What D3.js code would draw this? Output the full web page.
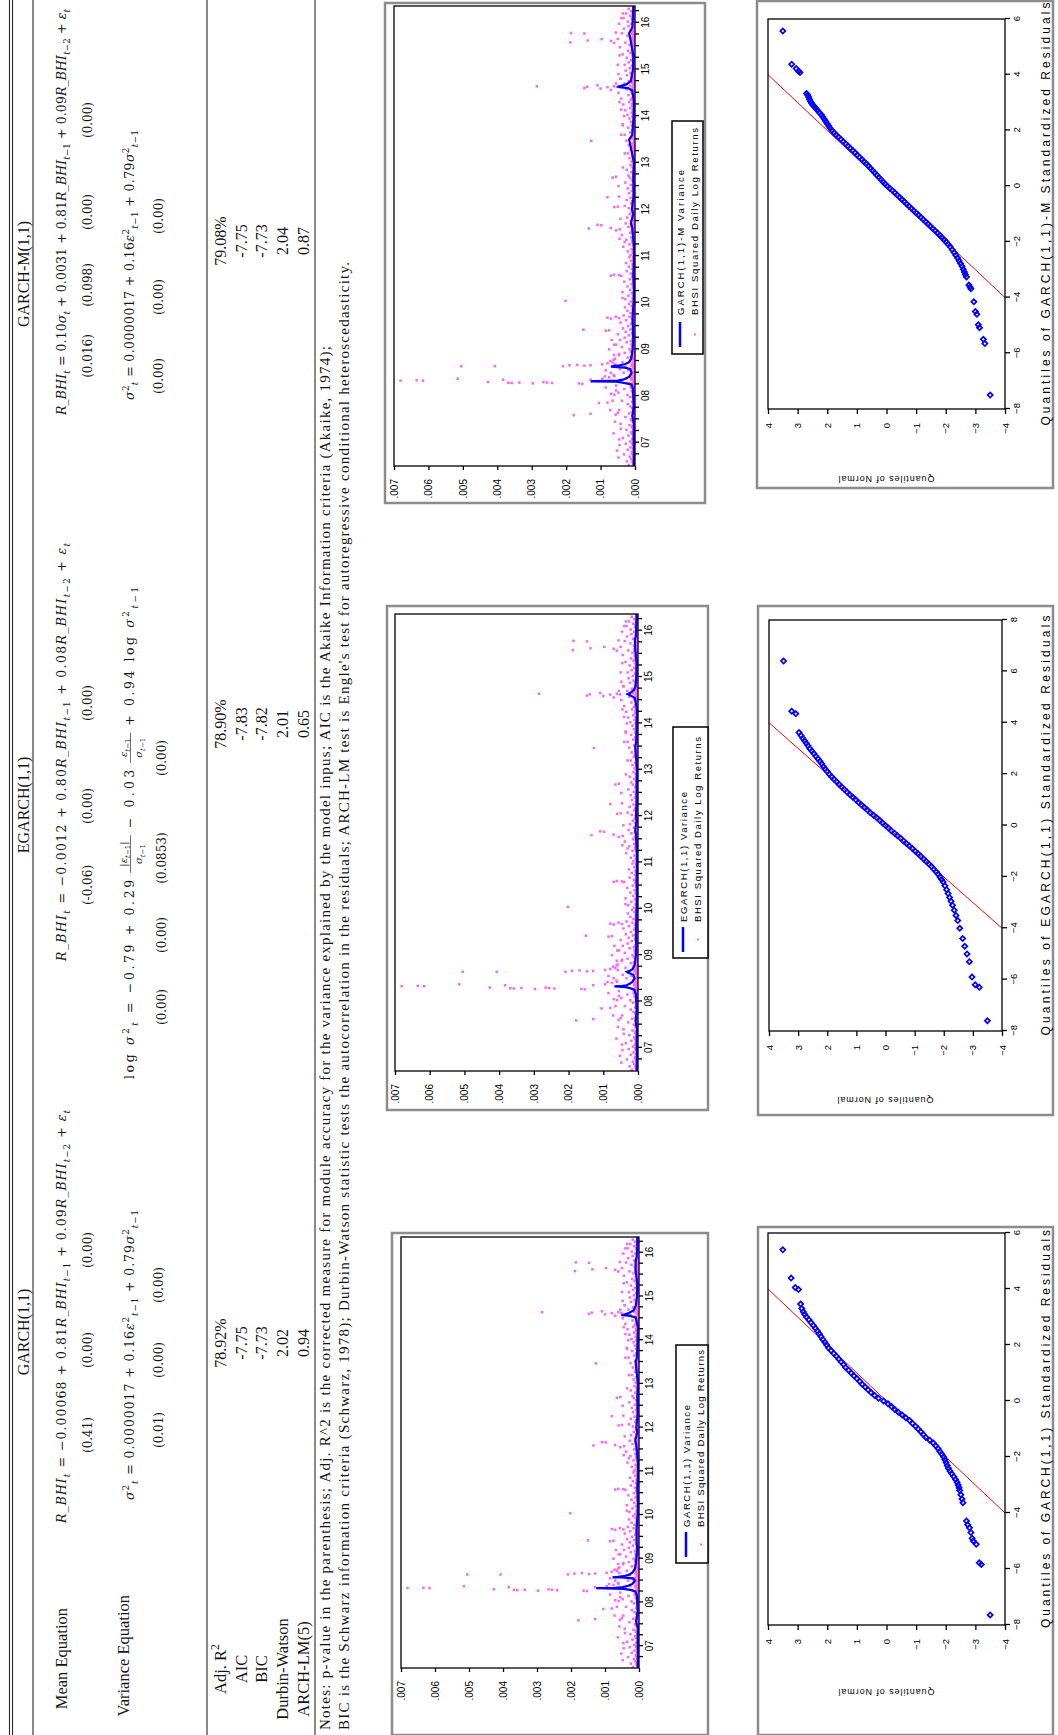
<!DOCTYPE html>
<html>
<head>
<meta charset="utf-8">
<script src="https://cdn.jsdelivr.net/npm/d3@7/dist/d3.min.js"></script>
<style>
body { margin: 0; background: #fff; }
svg { display: block; }
text { font-family: 'Liberation Serif', 'Times New Roman', serif; fill: #141414; }
.math { font-family: 'DejaVu Serif', 'Liberation Serif', serif; }
.ax text, .sans { font-family: 'Liberation Sans', Arial, sans-serif; fill: #000; }
</style>
</head>
<body>
<script>
// ---------------- data ----------------
var models = ["GARCH(1,1)", "EGARCH(1,1)", "GARCH-M(1,1)"];
var rowLabels = ["Mean Equation", "Variance Equation"];
var statLabels = ["Adj. R^{2}", "AIC", "BIC", "Durbin-Watson", "ARCH-LM(5)"];
var garchStats = ["78.92%", "-7.75", "-7.73", "2.02", "0.94"];
var egarchStats = ["78.90%", "-7.83", "-7.82", "2.01", "0.65"];
var garchmStats = ["79.08%", "-7.75", "-7.73", "2.04", "0.87"];

var meanEqs = [
  "R_BHI~{t} = −0.00068 + 0.81R_BHI~{t−1} + 0.09R_BHI~{t−2} + ε~{t}",
  "R_BHI~{t} = −0.0012 + 0.80R_BHI~{t−1} + 0.08R_BHI~{t−2} + ε~{t}",
  "R_BHI~{t} = 0.10σ~{t} + 0.0031 + 0.81R_BHI~{t−1} + 0.09R_BHI~{t−2} + ε~{t}"
];
var garchVarEq = "σ^{2}~{t} = 0.0000017 + 0.16ε^{2}~{t−1} + 0.79σ^{2}~{t−1}";
// EGARCH variance equation, pieces: text, fraction, text, fraction, text
var egarchVarEq = ["log σ^{2}~{t} = −0.79 + 0.29", ["|ε~{t−1}|", "σ~{t−1}"], "− 0.03", ["ε~{t−1}", "σ~{t−1}"], "+ 0.94 log σ^{2}~{t−1}"];

var meanP = [["(0.41)", "(0.00)", "(0.00)"], ["(-0.06)", "(0.00)", "(0.00)"], ["(0.016)", "(0.098)", "(0.00)", "(0.00)"]];
var varP = [["(0.01)", "(0.00)", "(0.00)"], ["(0.00)", "(0.00)", "(0.0853)", "(0.00)"], ["(0.00)", "(0.00)", "(0.00)"]];

var notes = [
  "Notes: p-value in the parenthesis; Adj. R^2 is the corrected measure for module accuracy for the variance explained by the model inpus; AIC is the Akaike Information criteria (Akaike, 1974);",
  "BIC is the Schwarz information criteria (Schwarz, 1978); Durbin-Watson statistic tests the autocorrelation in the residuals; ARCH-LM test is Engle's test for autoregressive conditional heteroscedasticity."
];

var yearTicks = [2007, 2008, 2009, 2010, 2011, 2012, 2013, 2014, 2015, 2016];
var varTicks = [0, 0.001, 0.002, 0.003, 0.004, 0.005, 0.006, 0.007];
var normalTicks = [-4, -3, -2, -1, 0, 1, 2, 3, 4];
var residTicks = [-8, -6, -4, -2, 0, 2, 4, 6];
var residTicksE = [-8, -6, -4, -2, 0, 2, 4, 6, 8];

// BHSI squared daily log returns, units of 1e-5
// low band readings every 0.025 year from 2006.5
var retBandStart = 2006.5, retBandStep = 0.025;
var retBand = [
  3,18,1,7,24,2,11,0,15,5,32,2,9,1,21,4,13,0,6,27,
  2,14,0,8,35,3,19,1,6,11,0,25,4,9,2,16,42,1,7,3,12,0,28,5,2,17,9,1,46,3,6,13,0,21,2,8,38,4,1,15,
  5,22,2,48,9,1,31,12,3,55,7,18,2,40,11,25,4,60,15,8,33,2,19,44,6,27,10,58,3,36,14,62,5,21,9,47,2,30,12,7,
  16,4,38,9,55,2,24,12,44,6,30,1,18,50,8,27,3,14,35,5,20,1,11,42,4,26,9,2,16,33,6,13,1,22,7,3,29,10,2,17,
  4,12,1,28,7,2,19,0,9,36,3,14,1,6,22,2,10,0,31,5,15,2,8,40,1,12,4,24,0,9,3,18,1,7,26,2,11,0,5,16,
  2,13,0,7,21,3,10,1,34,5,16,2,8,0,25,4,11,1,38,6,14,2,9,44,3,19,1,7,27,0,12,5,2,23,8,1,15,3,9,0,
  6,18,1,30,4,11,0,8,24,2,13,46,5,1,17,3,9,0,21,6,2,12,0,28,4,8,1,15,3,19,0,6,11,2,24,1,7,3,13,0,
  4,10,0,6,16,1,8,2,21,0,5,12,1,9,3,18,0,7,2,25,4,11,1,6,30,2,14,0,8,3,20,1,9,36,2,12,5,0,16,3,
  7,22,1,10,3,28,2,14,0,9,34,4,17,1,12,40,6,2,19,8,48,11,3,25,5,52,14,2,31,7,18,3,42,9,1,23,6,13,2,27,
  3,15,1,9,30,2,18,5,11,0,24,7,2,36,13,4,20,1,9,44,6,16,2,28,10,3,50,12,5,22,1,38,8,14,2,32,6,19,3,11,
  4,21,1,9,33,2,14,6,26,1,11,3,18,0
];
// second run of small readings, every 0.025 year from 2006.5125
var retLowStart = 2006.5125;
var retLow = [
  1,4,0,2,7,1,3,0,5,2,9,1,0,3,6,1,2,0,4,8,
  0,3,1,6,2,0,4,9,1,2,5,0,3,1,7,2,0,4,1,10,2,0,3,6,1,0,2,5,1,8,0,3,1,2,6,0,4,1,2,7,
  3,1,6,0,9,2,4,1,12,3,0,7,2,5,1,10,4,0,8,2,6,1,11,3,0,5,2,9,1,4,0,7,3,12,1,6,2,0,8,4,
  2,7,0,4,10,1,5,2,8,0,3,6,1,9,2,4,0,7,1,3,5,0,2,8,1,4,0,6,2,3,1,7,0,5,2,1,4,0,6,3,
  1,3,0,5,2,0,4,1,7,0,2,3,1,6,0,2,4,1,0,5,2,1,3,0,8,1,2,4,0,3,1,6,0,2,1,4,0,3,2,5,
  0,2,4,1,0,6,2,1,3,0,5,1,2,8,0,3,1,4,0,2,6,1,0,3,2,9,1,4,0,2,1,5,0,3,2,1,6,0,2,4,
  2,0,5,1,3,0,7,2,1,4,0,2,6,1,0,3,2,5,1,0,4,2,1,3,0,6,1,2,0,4,1,3,0,5,2,1,0,3,1,4,
  1,0,3,2,0,5,1,2,0,4,1,0,3,2,1,6,0,2,1,3,0,4,1,2,0,7,1,3,0,2,1,5,0,3,2,1,4,0,2,6,
  2,5,0,3,1,7,2,0,4,1,8,2,5,0,3,9,1,4,2,6,0,10,3,1,7,2,5,0,8,3,1,6,2,4,0,9,1,3,2,5,
  1,4,0,6,2,3,0,8,1,5,2,0,7,3,1,9,2,4,0,6,1,3,10,2,5,0,7,1,4,2,8,0,3,6,1,5,2,0,4,7,
  2,5,0,3,8,1,4,0,6,2,3,1,5,0
];
// larger squared returns [year, value 1e-5]
var retPeaks = [
  [2006.68,48],[2006.83,52],[2006.95,45],[2007.07,46],[2007.2,62],[2007.3,41],[2007.45,58],
  [2007.59,178],[2007.62,129],[2007.6,56],[2007.64,50],[2007.7,72],[2007.85,105],[2007.86,80],[2007.9,65],
  [2008.03,60],[2008.05,70],[2008.12,55],[2008.18,85],
  [2008.26,153],[2008.27,163],[2008.28,241],[2008.29,256],[2008.3,266],[2008.27,297],[2008.29,336],
  [2008.28,358],[2008.285,368],[2008.35,383],[2008.3,427],[2008.37,515],[2008.33,616],[2008.335,634],[2008.33,681],
  [2008.35,129],[2008.37,95],[2008.4,75],[2008.42,88],[2008.45,62],[2008.5,70],[2008.55,85],
  [2008.66,129],[2008.65,147],[2008.67,168],[2008.66,190],[2008.64,209],[2008.64,407],[2008.64,505],[2008.68,95],
  [2008.7,80],[2008.72,65],[2008.75,72],[2008.8,58],[2008.88,61],[2008.9,46],[2009.0,75],[2009.1,60],[2009.2,68],
  [2009.42,150],[2009.4,85],[2009.41,75],[2009.68,80],[2009.66,70],[2009.7,56],[2009.67,46],
  [2010.04,202],[2010.1,36],[2010.58,70],[2010.6,61],[2010.59,46],
  [2011.37,45],[2011.3,30],[2011.59,134],[2011.67,109],[2011.66,98],[2011.6,70],[2011.55,55],[2011.8,42],
  [2012.05,60],[2012.06,50],[2012.26,80],[2012.5,48],[2012.68,65],[2012.7,55],[2012.9,35],
  [2013.2,30],[2013.47,127],[2013.6,40],[2013.8,35],
  [2014.14,40],[2014.0,32],[2014.3,45],[2014.56,70],[2014.59,100],[2014.6,147],[2014.63,139],[2014.64,285],
  [2014.66,109],[2014.62,80],[2014.64,61],[2014.7,55],[2014.8,42],[2014.9,48],
  [2015.1,50],[2015.3,45],[2015.57,61],[2015.58,188],[2015.62,137],[2015.61,70],[2015.65,97],
  [2015.78,186],[2015.77,147],[2015.79,56],[2015.98,46],[2016.1,40],[2016.2,35]
];

// conditional variance series [year, value 1e-5]
var garchVar = [
  [2006.5,4],[2006.8,3],[2007.1,4],[2007.4,3],[2007.58,9],[2007.62,7],[2007.8,4],[2008.0,5],[2008.15,6],
  [2008.25,10],[2008.28,22],[2008.31,45],[2008.325,126],[2008.33,118],[2008.335,70],[2008.35,48],[2008.38,32],
  [2008.42,20],[2008.5,12],[2008.55,18],[2008.57,50],[2008.575,78],[2008.585,62],[2008.6,45],[2008.63,30],
  [2008.68,20],[2008.75,13],[2008.85,10],[2009.0,8],[2009.2,5],[2009.4,7],[2009.7,7],[2010.0,4],[2010.3,3],
  [2010.6,5],[2010.9,3],[2011.2,3],[2011.6,8],[2011.7,11],[2011.9,5],[2012.0,8],[2012.3,4],[2012.7,5],
  [2013.0,3],[2013.5,10],[2013.6,6],[2014.0,4],[2014.3,3],[2014.52,10],[2014.56,30],[2014.57,52],
  [2014.59,42],[2014.62,30],[2014.68,16],[2014.8,9],[2015.0,6],[2015.3,5],[2015.6,10],[2015.8,10],
  [2015.9,7],[2016.1,5],[2016.36,5]
];
var egarchVar = [
  [2006.5,4],[2006.8,3],[2007.1,4],[2007.4,3],[2007.58,7],[2007.62,6],[2007.8,4],[2008.0,5],[2008.15,6],
  [2008.25,10],[2008.28,20],[2008.31,35],[2008.325,68],[2008.33,62],[2008.335,45],[2008.35,33],[2008.38,25],
  [2008.42,16],[2008.5,10],[2008.58,14],[2008.62,28],[2008.64,32],[2008.66,24],[2008.7,15],[2008.78,10],
  [2008.88,8],[2009.0,6],[2009.2,5],[2009.4,6],[2009.7,5],[2010.0,4],[2010.3,3],[2010.6,4],[2010.9,3],
  [2011.2,3],[2011.6,6],[2011.7,8],[2011.9,4],[2012.0,6],[2012.3,4],[2012.7,4],[2013.0,3],[2013.5,8],
  [2013.6,5],[2014.0,4],[2014.3,3],[2014.55,9],[2014.61,24],[2014.63,30],[2014.66,22],[2014.72,12],
  [2014.8,7],[2015.0,5],[2015.3,4],[2015.6,8],[2015.8,9],[2015.9,6],[2016.1,5],[2016.36,4]
];
var garchmVar = [
  [2006.5,4],[2006.8,3],[2007.1,4],[2007.4,3],[2007.58,8],[2007.62,6],[2007.8,4],[2008.0,5],[2008.15,6],
  [2008.25,10],[2008.27,25],[2008.29,40],[2008.31,55],[2008.315,129],[2008.32,120],[2008.325,70],
  [2008.33,50],[2008.35,35],[2008.38,25],[2008.42,15],[2008.5,10],[2008.58,14],[2008.61,30],[2008.63,70],
  [2008.645,60],[2008.66,45],[2008.68,30],[2008.72,18],[2008.8,11],[2008.9,9],[2009.0,7],[2009.2,5],
  [2009.4,6],[2009.7,7],[2010.0,4],[2010.3,3],[2010.6,5],[2010.9,3],[2011.2,3],[2011.6,8],[2011.7,12],
  [2011.9,5],[2012.0,9],[2012.3,4],[2012.7,5],[2013.0,3],[2013.5,17],[2013.6,8],[2014.0,4],[2014.3,3],
  [2014.55,8],[2014.6,20],[2014.62,45],[2014.63,51],[2014.65,40],[2014.68,25],[2014.75,12],[2015.0,6],
  [2015.3,5],[2015.6,12],[2015.78,17],[2015.9,8],[2016.1,6],[2016.36,5]
];

// QQ plots: [residual quantile, normal quantile]
var garchQQ = [
  [5.4,3.5],[4.39,3.22],[4.05,3.08],[3.98,2.97],[3.46,2.9],
  [3.3,2.86],[3.19,2.81],[3.1,2.76],[3.0,2.7],[2.9,2.62],[2.8,2.55],[2.7,2.47],[2.6,2.4],[2.5,2.33],[2.4,2.27],
  [2.3,2.21],[2.2,2.15],[2.1,2.08],[2.0,2.02],[1.9,1.96],[1.8,1.87],[1.7,1.78],[1.6,1.69],[1.5,1.61],[1.4,1.53],
  [1.3,1.45],[1.2,1.38],[1.1,1.28],[1.0,1.19],[0.9,1.1],[0.8,1.0],[0.7,0.9],[0.6,0.82],[0.5,0.72],[0.4,0.62],
  [0.3,0.52],[0.2,0.4],[0.1,0.27],[0.0,0.1],[-0.1,-0.05],[-0.2,-0.17],[-0.3,-0.28],[-0.4,-0.4],[-0.5,-0.53],
  [-0.6,-0.65],[-0.7,-0.78],[-0.8,-0.88],[-0.9,-0.98],[-1.0,-1.07],[-1.1,-1.16],[-1.2,-1.24],[-1.3,-1.33],
  [-1.4,-1.46],[-1.5,-1.58],[-1.6,-1.66],[-1.7,-1.74],[-1.8,-1.8],[-1.9,-1.87],[-2.0,-1.93],[-2.1,-1.97],
  [-2.2,-2.01],[-2.3,-2.05],[-2.4,-2.09],[-2.5,-2.14],[-2.6,-2.2],[-2.7,-2.27],[-2.8,-2.33],[-2.9,-2.38],
  [-3.0,-2.42],[-3.1,-2.45],[-3.2,-2.47],[-3.35,-2.51],[-3.5,-2.55],[-3.63,-2.58],
  [-4.29,-2.7],[-4.42,-2.74],[-4.53,-2.8],[-4.7,-2.85],[-4.9,-2.89],[-5.0,-2.93],[-5.12,-3.03],[-5.78,-3.13],
  [-5.84,-3.2],[-7.64,-3.5]
];
var egarchQQ = [
  [6.4,3.5],[4.45,3.22],[4.35,3.08],[3.62,2.97],[3.5,2.9],[3.4,2.84],[3.3,2.78],[3.2,2.72],[3.1,2.66],[3.0,2.6],
  [2.9,2.53],[2.8,2.46],[2.7,2.39],[2.6,2.32],[2.5,2.25],[2.4,2.19],[2.3,2.13],[2.2,2.07],[2.1,2.0],[2.0,1.93],
  [1.9,1.85],[1.8,1.77],[1.7,1.68],[1.6,1.59],[1.5,1.5],[1.4,1.41],[1.3,1.32],[1.2,1.22],[1.1,1.12],[1.0,1.02],
  [0.9,0.92],[0.8,0.82],[0.7,0.72],[0.6,0.62],[0.5,0.52],[0.4,0.41],[0.3,0.3],[0.2,0.2],[0.1,0.1],[0.0,0.0],
  [-0.1,-0.1],[-0.2,-0.2],[-0.3,-0.31],[-0.4,-0.41],[-0.5,-0.52],[-0.6,-0.62],[-0.7,-0.72],[-0.8,-0.82],
  [-0.9,-0.92],[-1.0,-1.02],[-1.1,-1.12],[-1.2,-1.21],[-1.3,-1.31],[-1.4,-1.4],[-1.5,-1.49],[-1.6,-1.58],
  [-1.7,-1.66],[-1.8,-1.74],[-1.9,-1.81],[-2.0,-1.87],[-2.1,-1.93],[-2.2,-1.98],[-2.35,-2.04],[-2.5,-2.1],
  [-2.65,-2.15],[-2.8,-2.2],[-2.95,-2.25],[-3.1,-2.3],[-3.3,-2.36],[-3.5,-2.42],[-3.7,-2.48],[-4.0,-2.55],
  [-4.4,-2.65],[-4.7,-2.72],[-5.0,-2.8],[-5.3,-2.88],[-5.9,-2.97],[-6.2,-3.08],[-6.3,-3.22],[-7.6,-3.5]
];
var garchmQQ = [
  [5.57,3.5],[4.38,3.2],[4.22,3.05],[4.12,2.97],[4.08,2.92],
  [3.33,2.7],[3.27,2.66],[3.2,2.63],[3.12,2.6],[3.05,2.57],[2.98,2.53],[2.92,2.49],[2.86,2.44],[2.8,2.39],
  [2.72,2.33],[2.64,2.27],[2.56,2.2],[2.48,2.15],[2.4,2.1],[2.32,2.05],[2.24,2.0],[2.16,1.95],[2.08,1.9],
  [2.0,1.84],[1.92,1.77],[1.84,1.7],[1.76,1.62],[1.68,1.54],[1.6,1.46],[1.52,1.38],[1.44,1.3],[1.36,1.22],
  [1.28,1.14],[1.2,1.06],[1.12,0.99],[1.04,0.91],[0.96,0.83],[0.88,0.76],[0.8,0.68],[0.72,0.61],[0.64,0.54],
  [0.56,0.47],[0.48,0.4],[0.4,0.33],[0.32,0.26],[0.24,0.19],[0.16,0.12],[0.08,0.05],[0.0,-0.03],
  [-0.08,-0.11],[-0.16,-0.2],[-0.24,-0.28],[-0.32,-0.36],[-0.4,-0.44],[-0.48,-0.52],[-0.56,-0.6],[-0.64,-0.68],
  [-0.72,-0.76],[-0.8,-0.84],[-0.88,-0.92],[-0.96,-1.0],[-1.04,-1.08],[-1.12,-1.16],[-1.2,-1.24],[-1.28,-1.32],
  [-1.36,-1.4],[-1.44,-1.48],[-1.52,-1.56],[-1.6,-1.64],[-1.68,-1.72],[-1.76,-1.8],[-1.84,-1.87],[-1.92,-1.94],
  [-2.0,-2.01],[-2.09,-2.08],[-2.18,-2.15],[-2.28,-2.22],[-2.38,-2.28],[-2.48,-2.34],[-2.58,-2.4],[-2.68,-2.45],
  [-2.78,-2.5],[-2.88,-2.55],[-2.98,-2.59],[-3.08,-2.63],[-3.17,-2.66],[-3.26,-2.7],
  [-3.55,-2.78],[-3.62,-2.82],[-3.68,-2.85],[-4.15,-2.95],[-4.5,-3.0],[-4.6,-3.05],[-4.98,-3.1],[-5.08,-3.14],
  [-5.5,-3.27],[-5.65,-3.32],[-7.5,-3.5]
];

// ---------------- drawing ----------------
var PINK = "#ff62ff", BLUE = "#0000ff", RED = "#ff0000";
var yearDomain = [2006.5, 2016.36];
var clipN = 0;

var svg = d3.select("body").append("svg").attr("width", 1058).attr("height", 1735);
svg.append("rect").attr("width", 1058).attr("height", 1735).attr("fill", "#fff");
// the page is turned a quarter turn: page x runs up the picture, page y runs right
var page = svg.append("g").attr("transform", "translate(0,1735) rotate(-90)");

// text with ~{sub} and ^{sup}; letter runs italic unless plain
function rich(sel, str, x, y, size, opts) {
  opts = opts || {};
  var t = sel.append("text").attr("x", x).attr("y", y).attr("font-size", size)
    .attr("text-anchor", opts.anchor || "start").attr("class", opts.cls || null);
  var cur = 0;
  str.split(/(~\{[^}]*\}|\^\{[^}]*\})/).filter(function(s) { return s.length; }).forEach(function(part) {
    var off = 0, sz = size, txt = part;
    if (part.indexOf("~{") === 0) { off = size * 0.3; sz = size * 0.7; txt = part.slice(2, -1); }
    else if (part.indexOf("^{") === 0) { off = -size * 0.42; sz = size * 0.7; txt = part.slice(2, -1); }
    txt.split(/([A-Za-zσε_]+)/).filter(function(s) { return s.length; }).forEach(function(run) {
      var word = /^[A-Za-zσε_]+$/.test(run);
      var ts = t.append("tspan").attr("font-size", sz).text(run)
        .attr("font-style", (!opts.plain && word && run !== "log") ? "italic" : "normal");
      if (off !== cur) { ts.attr("dy", off - cur); cur = off; }
    });
  });
  return t;
}

// ---- table rules ----
[9.5, 12.5, 33, 207, 315].forEach(function(yy) {
  page.append("line").attr("x1", 0).attr("x2", 1735).attr("y1", yy).attr("y2", yy)
    .attr("stroke", "#2a2a2a").attr("stroke-width", 1.1);
});

// headers
var headerX = [403, 930, 1461];
models.forEach(function(m, i) {
  page.append("text").attr("x", headerX[i]).attr("y", 29).attr("font-size", 16)
    .attr("text-anchor", "middle").text(m);
});
page.append("text").attr("x", 127).attr("y", 67).attr("font-size", 16.5).attr("text-anchor", "end").text(rowLabels[0]);
page.append("text").attr("x", 140).attr("y", 129).attr("font-size", 16.5).attr("text-anchor", "end").text(rowLabels[1]);

// equations
var EQ = 12.5;
var meanSpan = [[212, 625], [774, 1192], [1320, 1726]];
meanEqs.forEach(function(eq, i) {
  rich(page, eq, meanSpan[i][0], 66, EQ, { cls: "math" }).attr("textLength", meanSpan[i][1] - meanSpan[i][0]);
});
var varSpan = [[235, 525], null, [1335, 1605]];
[0, 2].forEach(function(i) {
  rich(page, garchVarEq, varSpan[i][0], 134, EQ, { cls: "math" }).attr("textLength", varSpan[i][1] - varSpan[i][0]);
});

// EGARCH variance equation with two fractions
(function() {
  var x0 = 656, x1 = 1148, base = 134, fs = 10, gap = 5;
  var parts = [], widths = [];
  egarchVarEq.forEach(function(p) {
    if (typeof p === "string") {
      var t = rich(page, p, 0, base, EQ, { cls: "math" });
      var w = t.node().getComputedTextLength();
      parts.push({ t: t, w: w }); widths.push(w);
    } else {
      var n = rich(page, p[0], 0, base - 7, fs, { anchor: "middle", cls: "math" });
      var d = rich(page, p[1], 0, base + 8, fs, { anchor: "middle", cls: "math" });
      var w2 = Math.max(n.node().getComputedTextLength(), d.node().getComputedTextLength()) + 2;
      parts.push({ n: n, d: d, w: w2 }); widths.push(w2);
    }
  });
  var natural = d3.sum(widths) + gap * (parts.length - 1);
  var k = (x1 - x0) / natural;
  var x = x0;
  parts.forEach(function(p) {
    var w = p.w * k;
    if (p.t) { p.t.attr("x", x).attr("textLength", w); }
    else {
      p.n.attr("x", x + w / 2); p.d.attr("x", x + w / 2);
      page.append("line").attr("x1", x).attr("x2", x + w).attr("y1", base - 3.5).attr("y2", base - 3.5)
        .attr("stroke", "#333").attr("stroke-width", 0.7);
    }
    x += w + gap * k;
  });
})();

// p-values
var meanPX = [[300, 385, 485], [850, 929, 1032], [1379, 1450, 1523, 1615]];
var varPX = [[305, 375, 450], [728, 800, 877, 977], [1359, 1438, 1519]];
meanP.forEach(function(row, i) {
  row.forEach(function(p, j) {
    page.append("text").attr("class", "math").attr("x", meanPX[i][j]).attr("y", 92).attr("font-size", 12)
      .attr("text-anchor", "middle").text(p);
  });
});
varP.forEach(function(row, i) {
  row.forEach(function(p, j) {
    page.append("text").attr("class", "math").attr("x", varPX[i][j]).attr("y", i === 1 ? 166 : 163).attr("font-size", 12)
      .attr("text-anchor", "middle").text(p);
  });
});

// statistics
var statY = [226, 247, 267, 288, 309];
statLabels.forEach(function(s, i) {
  rich(page, s, 66, statY[i], 16.5, { anchor: "middle", plain: true });
});
var statX = [392, 1011, 1494];
[garchStats, egarchStats, garchmStats].forEach(function(col, i) {
  col.forEach(function(v, j) {
    page.append("text").attr("x", statX[i]).attr("y", statY[j]).attr("font-size", 16)
      .attr("text-anchor", "middle").text(v);
  });
});

// notes
page.append("text").attr("x", 5).attr("y", 330).attr("font-size", 15).attr("textLength", 1384).text(notes[0]);
page.append("text").attr("x", 5).attr("y", 349).attr("font-size", 15).attr("textLength", 1468).text(notes[1]);

// ---- variance charts ----
function varianceChart(L, series, label) {
  var g = page.append("g");
  g.append("rect").attr("x", L.frame[0]).attr("y", L.frame[1])
    .attr("width", L.frame[2] - L.frame[0]).attr("height", L.frame[3] - L.frame[1])
    .attr("fill", "#fff").attr("stroke", "#8c8c8c").attr("stroke-width", 2.5);
  var x = d3.scaleLinear().domain(yearDomain).range([L.box[0], L.box[2]]);
  var y = d3.scaleLinear().domain([0, 0.007]).range([L.box[3], L.box[1]]);
  var id = "clip" + (++clipN);
  g.append("clipPath").attr("id", id).append("rect")
    .attr("x", L.box[0]).attr("y", L.box[1] - 1).attr("width", L.box[2] - L.box[0]).attr("height", L.box[3] - L.box[1] + 1);
  var plot = g.append("g").attr("clip-path", "url(#" + id + ")");
  var s = 2.5;
  function dots(cls, data, tx, ty) {
    plot.selectAll("rect." + cls).data(data).join("rect").attr("class", cls)
      .attr("x", function(d, i) { return tx(d, i) - s / 2; })
      .attr("y", function(d) { return y(ty(d) * 1e-5) - s / 2; })
      .attr("width", s).attr("height", s).attr("fill", PINK);
  }
  dots("band", retBand, function(d, i) { return x(retBandStart + i * retBandStep); }, function(d) { return d; });
  dots("low", retLow, function(d, i) { return x(retLowStart + i * retBandStep); }, function(d) { return d; });
  dots("peak", retPeaks, function(d) { return x(d[0]); }, function(d) { return d[1]; });
  plot.append("path").datum(series)
    .attr("d", d3.line().x(function(d) { return x(d[0]); }).y(function(d) { return y(d[1] * 1e-5); }))
    .attr("fill", "none").attr("stroke", BLUE).attr("stroke-width", 2.2);
  g.append("rect").attr("x", L.box[0]).attr("y", L.box[1])
    .attr("width", L.box[2] - L.box[0]).attr("height", L.box[3] - L.box[1])
    .attr("fill", "none").attr("stroke", "#000").attr("stroke-width", 1.3);

  var quarters = d3.range(2006.75, 2016.36, 0.25);
  g.append("g").attr("class", "ax").attr("transform", "translate(0," + L.box[3] + ")")
    .call(d3.axisBottom(x).tickValues(quarters).tickSize(4).tickPadding(3)
      .tickFormat(function(d) { return yearTicks.indexOf(d) >= 0 ? String(d).slice(2) : ""; }))
    .call(function(s) { s.select(".domain").remove(); s.selectAll("text").attr("font-size", 10); s.selectAll("line").attr("stroke-width", 1.3); });
  g.append("g").attr("class", "ax").attr("transform", "translate(" + L.box[0] + ",0)")
    .call(d3.axisLeft(y).tickValues(varTicks).tickSize(4).tickPadding(9)
      .tickFormat(function(d) { return d3.format(".3f")(d).replace(/^0/, ""); }))
    .call(function(s) { s.select(".domain").remove(); s.selectAll("text").attr("font-size", 10); s.selectAll("line").attr("stroke-width", 1.3); });

  var lg = L.legend;
  g.append("rect").attr("x", lg.box[0]).attr("y", lg.box[1]).attr("width", lg.box[2] - lg.box[0])
    .attr("height", lg.box[3] - lg.box[1]).attr("fill", "#fff").attr("stroke", "#000").attr("stroke-width", 1.5);
  g.append("line").attr("x1", lg.line[0]).attr("x2", lg.line[1]).attr("y1", lg.y1 - 4).attr("y2", lg.y1 - 4)
    .attr("stroke", BLUE).attr("stroke-width", 2.5);
  g.append("rect").attr("x", (lg.line[0] + lg.line[1]) / 2 - 1).attr("y", lg.y2 - 4).attr("width", 2).attr("height", 2).attr("fill", PINK);
  g.append("text").attr("class", "sans").attr("x", lg.tx).attr("y", lg.y1).attr("font-size", 9.5)
    .attr("textLength", lg.len[0]).text(label);
  g.append("text").attr("class", "sans").attr("x", lg.tx).attr("y", lg.y2).attr("font-size", 9.5)
    .attr("textLength", lg.len[1]).text("BHSI Squared Daily Log Returns");
}

varianceChart({ frame: [0, 392, 502, 708], box: [67, 401, 498, 639],
  legend: { box: [172, 676, 390, 708], line: [178, 203], tx: 208, y1: 690, y2: 704, len: [122, 177] } },
  garchVar, "GARCH(1,1) Variance");
varianceChart({ frame: [625, 387, 1129, 708], box: [664, 395, 1121, 638],
  legend: { box: [777, 673, 1008, 708], line: [783, 808], tx: 813, y1: 687, y2: 701, len: [130, 185] } },
  egarchVar, "EGARCH(1,1) Variance");
varianceChart({ frame: [1232, 385, 1732, 705], box: [1269, 394, 1729, 635],
  legend: { box: [1381, 672, 1614, 703], line: [1388, 1413], tx: 1420, y1: 684, y2: 698, len: [145, 187] } },
  garchmVar, "GARCH(1,1)-M Variance");

// ---- QQ charts ----
function qqChart(L, pts, ticks, title) {
  var g = page.append("g");
  g.append("rect").attr("x", L.frame[0]).attr("y", L.frame[1])
    .attr("width", L.frame[2] - L.frame[0]).attr("height", L.frame[3] - L.frame[1])
    .attr("fill", "#fff").attr("stroke", "#8c8c8c").attr("stroke-width", 2.5);
  var x = d3.scaleLinear().domain(L.xDomain).range([L.box[0], L.box[2]]);
  var y = d3.scaleLinear().domain([-4, 4]).range([L.box[3], L.box[1]]);
  var id = "clip" + (++clipN);
  g.append("clipPath").attr("id", id).append("rect")
    .attr("x", L.box[0]).attr("y", L.box[1]).attr("width", L.box[2] - L.box[0]).attr("height", L.box[3] - L.box[1]);
  var plot = g.append("g").attr("clip-path", "url(#" + id + ")");
  plot.append("line").attr("x1", x(-4)).attr("y1", y(-4)).attr("x2", x(4)).attr("y2", y(4))
    .attr("stroke", RED).attr("stroke-width", 1);
  plot.selectAll("path.pt").data(pts).join("path").attr("class", "pt")
    .attr("transform", function(d) { return "translate(" + x(d[0]) + "," + y(d[1]) + ") rotate(45)"; })
    .attr("d", d3.symbol(d3.symbolSquare, 13))
    .attr("fill", "none").attr("stroke", BLUE).attr("stroke-width", 1.7);
  g.append("rect").attr("x", L.box[0]).attr("y", L.box[1])
    .attr("width", L.box[2] - L.box[0]).attr("height", L.box[3] - L.box[1])
    .attr("fill", "none").attr("stroke", "#000").attr("stroke-width", 1.3);
  g.append("g").attr("class", "ax").attr("transform", "translate(0," + L.box[3] + ")")
    .call(d3.axisBottom(x).tickValues(ticks).tickSize(5).tickPadding(3))
    .call(function(s) { s.select(".domain").remove(); s.selectAll("text").attr("font-size", 9.5); s.selectAll("line").attr("stroke-width", 1.3); });
  g.append("g").attr("class", "ax").attr("transform", "translate(" + L.box[0] + ",0)")
    .call(d3.axisLeft(y).tickValues(normalTicks).tickSize(5).tickPadding(9))
    .call(function(s) { s.select(".domain").remove(); s.selectAll("text").attr("font-size", 9.5); s.selectAll("line").attr("stroke-width", 1.3); });
  g.append("text").attr("class", "sans").attr("x", (L.box[0] + L.box[2]) / 2).attr("y", 1050)
    .attr("text-anchor", "middle").attr("font-size", 12).attr("textLength", L.titleLen).text(title);
  g.append("text").attr("class", "sans").attr("transform", "translate(" + L.yTitleX + "," + ((L.box[1] + L.box[3]) / 2) + ") rotate(-90)")
    .attr("text-anchor", "middle").attr("font-size", 9).attr("textLength", 96).text("Quantiles of Normal");
}

qqChart({ frame: [0, 758, 508, 1053], box: [110, 768, 502, 1005], xDomain: [-8, 6], titleLen: 398, yTitleX: 46 },
  garchQQ, residTicks, "Quantiles of GARCH(1,1) Standardized Residuals");
qqChart({ frame: [620, 758, 1129, 1053], box: [704, 769, 1115, 1002], xDomain: [-8, 8], titleLen: 420, yTitleX: 638 },
  egarchQQ, residTicksE, "Quantiles of EGARCH(1,1) Standardized Residuals");
qqChart({ frame: [1247, 757, 1734, 1053], box: [1326, 768, 1716, 1005], xDomain: [-8, 6], titleLen: 423, yTitleX: 1259 },
  garchmQQ, residTicks, "Quantiles of GARCH(1,1)-M Standardized Residuals");
</script>
</body>
</html>
